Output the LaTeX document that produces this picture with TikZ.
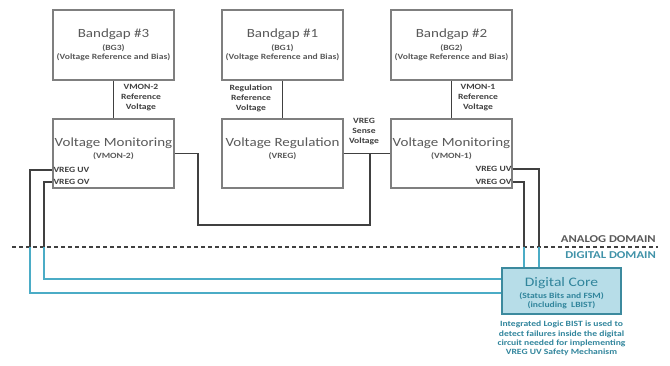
\documentclass[tikz,border=0pt]{standalone}
\usepackage{fontspec}
\setmainfont{Carlito}[FakeStretch=1.2]
\usetikzlibrary{shadows}
\definecolor{boxgray}{HTML}{7F7F7F}
\definecolor{wiregray}{HTML}{404040}
\definecolor{txtgray}{HTML}{595959}
\definecolor{lblgray}{HTML}{404040}
\definecolor{digblue}{HTML}{4BACC6}
\definecolor{digtext}{HTML}{31859C}
\definecolor{digfill}{HTML}{B7DDE8}
\tikzset{
  block/.style={draw=boxgray, line width=1.3pt, fill=white, minimum width=121pt,
    inner sep=0pt, drop shadow={shadow xshift=1pt, shadow yshift=-1pt, opacity=0.35}},
  bgbox/.style={block, minimum height=70pt},
  funcbox/.style={block, minimum height=69pt},
  title/.style={text=txtgray, font=\fontsize{12.5}{14}\selectfont, inner sep=0pt},
  sub/.style={text=txtgray, font=\fontsize{8}{9.5}\selectfont\bfseries, inner sep=0pt, align=center},
  sig/.style={text=lblgray, font=\fontsize{8}{10}\selectfont\bfseries, inner sep=0pt, align=center},
  port/.style={text=lblgray, font=\fontsize{8}{9}\selectfont\bfseries, inner sep=1pt},
  wire/.style={draw=wiregray, line width=1.1pt},
  bwire/.style={draw=digblue, line width=1.1pt},
  domainlabel/.style={font=\fontsize{10.5}{12}\selectfont\bfseries, inner sep=0pt, anchor=east},
}
\begin{document}
\begin{tikzpicture}[x=1pt, y=-1pt]
\useasboundingbox (0,0) rectangle (670,365);

% ---- bandgap references ----
\node[bgbox] (bg3) at (113.5,45) {};
\node[bgbox] (bg1) at (282.5,45) {};
\node[bgbox] (bg2) at (451.5,45) {};
\foreach \b/\n/\s in {bg3/3/BG3, bg1/1/BG1, bg2/2/BG2}{
  \node[title] (\b t) at ([yshift=10.5pt]\b.center) {Bandgap \#\n};
  \node[sub] (\b s) at ([yshift=-7.5pt]\b.center) {(\s)\\(Voltage Reference and Bias)};
}

% ---- monitoring and regulation blocks ----
\node[funcbox] (vmon2) at (113.5,153.5) {};
\node[funcbox] (vreg)  at (282.5,153.5) {};
\node[funcbox] (vmon1) at (451.5,153.5) {};
\node[title] (vmon2t) at ([yshift=10.5pt]vmon2.center) {Voltage Monitoring};
\node[sub]   (vmon2s) at ([yshift=-3pt]vmon2.center) {(VMON-2)};
\node[title] (vregt)  at ([yshift=10.5pt]vreg.center) {Voltage Regulation};
\node[sub]   (vregs)  at ([yshift=-3pt]vreg.center) {(VREG)};
\node[title] (vmon1t) at ([yshift=10.5pt]vmon1.center) {Voltage Monitoring};
\node[sub]   (vmon1s) at ([yshift=-3pt]vmon1.center) {(VMON-1)};

% status outputs
\node[port, anchor=west] (uv2) at (vmon2.west |- 0,170) {VREG UV};
\node[port, anchor=west] (ov2) at (vmon2.west |- 0,182) {VREG OV};
\node[port, anchor=east] (uv1) at (vmon1.east |- 0,169) {VREG UV};
\node[port, anchor=east] (ov1) at (vmon1.east |- 0,182) {VREG OV};

% ---- reference connections ----
\draw[wire] (bg3.south) -- (vmon2.north);
\draw[wire] (bg1.south) -- (vreg.north);
\draw[wire] (bg2.south) -- (vmon1.north);
\node[sig] (l3) at (141,98) {VMON-2\\Reference\\Voltage};
\node[sig] (l1) at (251,98) {Regulation\\Reference\\Voltage};
\node[sig] (l2) at (478,98) {VMON-1\\Reference\\Voltage};

% ---- sense voltage ----
\draw[wire] (vreg.east) -- (vmon1.west);
\node[sig] (ls) at (364,132) {VREG\\Sense\\Voltage};
\coordinate (sj) at (370,153.5);
\coordinate (sl) at (198,225);
\draw[wire] (vmon2.east) -| (sl) -| (sj);

% ---- domain boundary ----
\coordinate (dl) at (12,247);
\coordinate (dr) at (658,247);
\draw[wiregray, line width=1.2pt, dash pattern=on 4pt off 3pt] (dl) -- (dr);
\node[domainlabel, text=txtgray] (ana) at (656,239) {ANALOG DOMAIN};
\node[domainlabel, text=digblue!85!black] (dig) at (656,255.5) {DIGITAL DOMAIN};

% ---- digital core ----
\node[draw=digblue!80!black, line width=1.3pt, fill=digfill, minimum width=119pt, minimum height=46pt,
  inner sep=0pt, drop shadow={shadow xshift=1pt, shadow yshift=-1pt, opacity=0.3}] (core) at (561.5,291) {};
\node[text=digtext, font=\fontsize{13}{15}\selectfont, inner sep=0pt] (coret) at ([yshift=8pt]core.center) {Digital Core};
\node[text=digtext, font=\fontsize{8}{9}\selectfont\bfseries, inner sep=0pt, align=center] (cores)
  at ([yshift=-9.5pt]core.center) {(Status Bits and FSM)\\(including\ \ LBIST)};
\node[text=digtext, font=\fontsize{8}{9.2}\selectfont\bfseries, inner sep=0pt, align=center, anchor=north] (note)
  at ([yshift=-6.5pt]core.south) {Integrated Logic BIST is used to\\detect failures inside the digital\\circuit needed for implementing\\VREG UV Safety Mechanism};

% ---- status wiring: VMON-2 ----
\coordinate (a1) at (30,247);
\coordinate (a2) at (44,247);
\draw[wire] (uv2.west) -| (a1);
\draw[wire] (ov2.west) -| (a2);
\draw[bwire] (a1) |- (core.west |- 0,293);
\draw[bwire] (a2) |- (core.west |- 0,279);

% ---- status wiring: VMON-1 ----
\coordinate (b1) at (539,247);
\coordinate (b2) at (524,247);
\draw[wire] (uv1.east) -| (b1);
\draw[wire] (ov1.east) -| (b2);
\draw[bwire] (b1) -- (b1 |- core.north);
\draw[bwire] (b2) -- (b2 |- core.north);
\end{tikzpicture}
\end{document}
